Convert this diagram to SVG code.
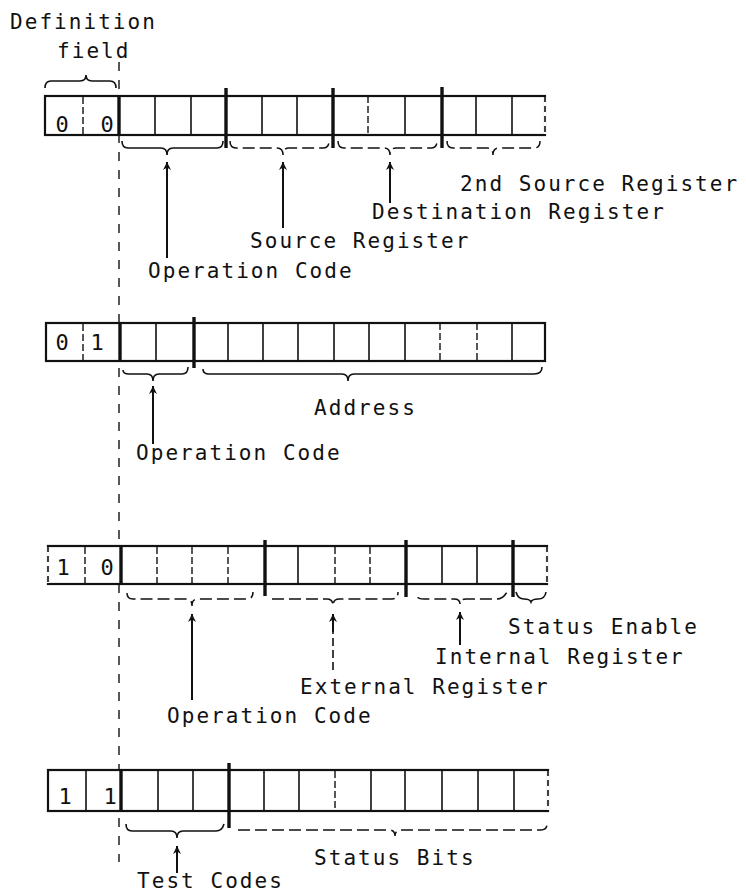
<svg xmlns="http://www.w3.org/2000/svg" width="746" height="892" viewBox="0 0 746 892">
  <style>
    .lbl { font-family: "DejaVu Sans Mono", "Liberation Mono", monospace; font-size: 21px; letter-spacing: 2.05px; fill: #111; }
    .dig { font-family: "DejaVu Sans Mono", "Liberation Mono", monospace; font-size: 22px; fill: #111; text-anchor: middle; }
    .box { fill: #fff; stroke: #111; stroke-width: 2.2; }
    .cell { stroke: #111; stroke-width: 1.6; }
    .soft { stroke: #111; stroke-width: 1.4; stroke-dasharray: 7 3; }
    .thick { stroke: #111; stroke-width: 3.4; }
    .edge { stroke: #fff; stroke-width: 3; }
    .edge2 { stroke: #111; stroke-width: 1.6; stroke-dasharray: 6 4; }
    .brace { fill: none; stroke: #111; stroke-width: 1.6; }
    .brace-d { fill: none; stroke: #111; stroke-width: 1.5; stroke-dasharray: 12 5; }
    .arrow { stroke: #111; stroke-width: 2; marker-end: url(#head); }
    .arrow-d { stroke: #111; stroke-width: 1.6; stroke-dasharray: 8 4; }
    .guide { stroke: #111; stroke-width: 1.4; stroke-dasharray: 9 9; }
  </style>
  <defs>
    <marker id="head" viewBox="0 0 10 10" refX="10" refY="5" markerUnits="userSpaceOnUse" markerWidth="16" markerHeight="8" orient="auto">
      <path d="M0,0 L10,5 L0,10 L3,5 z" fill="#111"/>
    </marker>
  </defs>

  <!-- definition field heading -->
  <g id="definition-field">
    <text class="lbl" x="10" y="29">Definition</text>
    <text class="lbl" x="57" y="58">field</text>
    <path class="brace" d="M45,88 Q45,81 51,81 L80,81 Q86,81 86,75 Q86,81 92,81 L110,81 Q116,81 116,88"/>
  </g>

  <!-- dash-dot guide through the definition field boundary, and the pointer arrows -->
  <g id="connectors">
    <line class="guide" x1="119" y1="62" x2="119" y2="862"/>

    <!-- format 00 arrows -->
    <line class="arrow" x1="167" y1="258" x2="167" y2="162"/>
    <line class="arrow" x1="283" y1="228" x2="283" y2="162"/>
    <line class="arrow" x1="390" y1="203" x2="390" y2="162"/>
    <!-- format 01 arrows -->
    <line class="arrow" x1="153" y1="444" x2="153" y2="386"/>
    <!-- format 10 arrows -->
    <line class="arrow" x1="192" y1="700" x2="192" y2="614"/>
    <line class="arrow-d" x1="333" y1="670" x2="333" y2="624"/>
    <line class="arrow" x1="333" y1="632" x2="333" y2="614"/>
    <line class="arrow" x1="460" y1="645" x2="460" y2="612"/>
    <!-- format 11 arrows -->
    <line class="arrow" x1="177" y1="873" x2="177" y2="846"/>
  </g>

  <!-- format 00: register operations -->
  <g id="format-00">
    <rect class="box" x="45" y="96" width="500" height="39"/>
    <line class="edge" x1="545" y1="97" x2="545" y2="134"/>
    <line class="edge2" x1="545" y1="96" x2="545" y2="135"/>
    <line class="soft" x1="83" y1="97" x2="83" y2="134"/>
    <line class="thick" x1="119" y1="96" x2="119" y2="135"/>
    <line class="cell" x1="155" y1="96" x2="155" y2="135"/>
    <line class="cell" x1="191" y1="96" x2="191" y2="135"/>
    <line class="thick" x1="226" y1="88" x2="226" y2="148"/>
    <line class="cell" x1="262" y1="96" x2="262" y2="135"/>
    <line class="cell" x1="297" y1="96" x2="297" y2="135"/>
    <line class="thick" x1="333" y1="88" x2="333" y2="148"/>
    <line class="soft" x1="368" y1="96" x2="368" y2="135"/>
    <line class="cell" x1="405" y1="96" x2="405" y2="135"/>
    <line class="thick" x1="442" y1="87" x2="442" y2="148"/>
    <line class="cell" x1="476" y1="96" x2="476" y2="135"/>
    <line class="cell" x1="512" y1="96" x2="512" y2="135"/>
    <text class="dig" x="62" y="132">0</text>
    <text class="dig" x="107" y="132">0</text>
    <path class="brace" d="M122,141 Q122,148 128,148 L161,148 Q167,148 167,155 Q167,148 173,148 L217,148 Q223,148 223,141"/>
    <path class="brace-d" d="M230,141 Q230,148 236,148 L277,148 Q283,148 283,155 Q283,148 289,148 L323,148 Q329,148 329,141"/>
    <path class="brace-d" d="M338,141 Q338,148 344,148 L384,148 Q390,148 390,155 Q390,148 396,148 L431,148 Q437,148 437,141"/>
    <path class="brace-d" d="M447,141 Q447,148 453,148 L487,148 Q493,148 493,155 Q493,148 499,148 L534,148 Q540,148 540,141"/>
    <text class="lbl" x="460" y="191">2nd Source Register</text>
    <text class="lbl" x="372" y="219">Destination Register</text>
    <text class="lbl" x="250" y="248">Source Register</text>
    <text class="lbl" x="148" y="278">Operation Code</text>
  </g>

  <!-- format 01: address -->
  <g id="format-01">
    <rect class="box" x="46" y="323" width="499" height="38"/>
    <line class="soft" x1="83" y1="324" x2="83" y2="360"/>
    <line class="thick" x1="120" y1="323" x2="120" y2="361"/>
    <line class="cell" x1="156" y1="323" x2="156" y2="361"/>
    <line class="thick" x1="194" y1="317" x2="194" y2="368"/>
    <line class="cell" x1="228" y1="323" x2="228" y2="361"/>
    <line class="cell" x1="263" y1="323" x2="263" y2="361"/>
    <line class="cell" x1="298" y1="323" x2="298" y2="361"/>
    <line class="cell" x1="334" y1="323" x2="334" y2="361"/>
    <line class="cell" x1="369" y1="323" x2="369" y2="361"/>
    <line class="cell" x1="405" y1="323" x2="405" y2="361"/>
    <line class="soft" x1="440" y1="323" x2="440" y2="361"/>
    <line class="soft" x1="477" y1="323" x2="477" y2="361"/>
    <line class="cell" x1="512" y1="323" x2="512" y2="361"/>
    <text class="dig" x="62" y="350">0</text>
    <text class="dig" x="97" y="350">1</text>
    <path class="brace" d="M123,370 Q123,374 129,374 L147,374 Q153,374 153,381 Q153,374 159,374 L182,374 Q188,374 188,367"/>
    <path class="brace" d="M203,369 Q203,374 209,374 L342,374 Q348,374 348,381 Q348,374 354,374 L534,374 Q542,374 542,367"/>
    <text class="lbl" x="314" y="415">Address</text>
    <text class="lbl" x="136" y="460">Operation Code</text>
  </g>

  <!-- format 10: external / internal register -->
  <g id="format-10">
    <rect class="box" x="48" y="546" width="499" height="38"/>
    <line class="edge" x1="547" y1="547" x2="547" y2="583"/>
    <line class="edge2" x1="547" y1="546" x2="547" y2="584"/>
    <line class="edge" x1="48" y1="547" x2="48" y2="583"/>
    <line class="edge2" x1="48" y1="546" x2="48" y2="584"/>
    <line class="soft" x1="85" y1="547" x2="85" y2="583"/>
    <line class="thick" x1="121" y1="546" x2="121" y2="584"/>
    <line class="soft" x1="157" y1="547" x2="157" y2="583"/>
    <line class="soft" x1="192" y1="547" x2="192" y2="583"/>
    <line class="soft" x1="228" y1="547" x2="228" y2="583"/>
    <line class="thick" x1="265" y1="540" x2="265" y2="596"/>
    <line class="cell" x1="298" y1="546" x2="298" y2="584"/>
    <line class="soft" x1="335" y1="547" x2="335" y2="583"/>
    <line class="soft" x1="370" y1="547" x2="370" y2="583"/>
    <line class="thick" x1="406" y1="540" x2="406" y2="597"/>
    <line class="cell" x1="442" y1="546" x2="442" y2="584"/>
    <line class="cell" x1="477" y1="546" x2="477" y2="584"/>
    <line class="thick" x1="513" y1="540" x2="513" y2="597"/>
    <text class="dig" x="63" y="575">1</text>
    <text class="dig" x="107" y="575">0</text>
    <path class="brace-d" d="M127,593 Q127,599 133,599 L186,599 Q192,599 192,606 Q192,599 198,599 L247,599 Q253,599 253,592"/>
    <path class="brace-d" d="M272,599 L327,599 Q333,599 333,606 Q333,599 339,599 L392,599 Q398,599 398,592"/>
    <path class="brace-d" d="M418,597 Q418,599 424,599 L454,599 Q460,599 460,604 Q460,599 466,599 L497,599 Q503,599 507,592"/>
    <path class="brace" d="M516,592 Q518,599 524,599 Q530,599 531,602 Q532,599 538,599 Q545,599 546,592"/>
    <text class="lbl" x="508" y="634">Status Enable</text>
    <text class="lbl" x="435" y="664">Internal Register</text>
    <text class="lbl" x="300" y="694">External Register</text>
    <text class="lbl" x="167" y="723">Operation Code</text>
  </g>

  <!-- format 11: test codes / status bits -->
  <g id="format-11">
    <rect class="box" x="48" y="770" width="500" height="41"/>
    <line class="edge" x1="548" y1="771" x2="548" y2="810"/>
    <line class="edge2" x1="548" y1="770" x2="548" y2="811"/>
    <line class="cell" x1="86" y1="770" x2="86" y2="811"/>
    <line class="thick" x1="121" y1="770" x2="121" y2="811"/>
    <line class="cell" x1="158" y1="770" x2="158" y2="811"/>
    <line class="cell" x1="193" y1="770" x2="193" y2="811"/>
    <line class="thick" x1="229" y1="763" x2="229" y2="828"/>
    <line class="cell" x1="264" y1="770" x2="264" y2="811"/>
    <line class="cell" x1="299" y1="770" x2="299" y2="811"/>
    <line class="soft" x1="335" y1="771" x2="335" y2="810"/>
    <line class="cell" x1="371" y1="770" x2="371" y2="811"/>
    <line class="cell" x1="405" y1="770" x2="405" y2="811"/>
    <line class="cell" x1="442" y1="770" x2="442" y2="811"/>
    <line class="cell" x1="478" y1="770" x2="478" y2="811"/>
    <line class="cell" x1="514" y1="770" x2="514" y2="811"/>
    <text class="dig" x="65" y="804">1</text>
    <text class="dig" x="110" y="804">1</text>
    <path class="brace" d="M126,824 Q126,831 132,831 L171,831 Q177,831 177,838 Q177,831 183,831 L216,831 Q222,831 224,824"/>
    <path class="brace-d" d="M238,830 L389,830 Q395,830 395,836 Q395,830 401,830 L541,830 Q547,830 547,824"/>
    <text class="lbl" x="314" y="865">Status Bits</text>
    <text class="lbl" x="137" y="888">Test Codes</text>
  </g>
</svg>
